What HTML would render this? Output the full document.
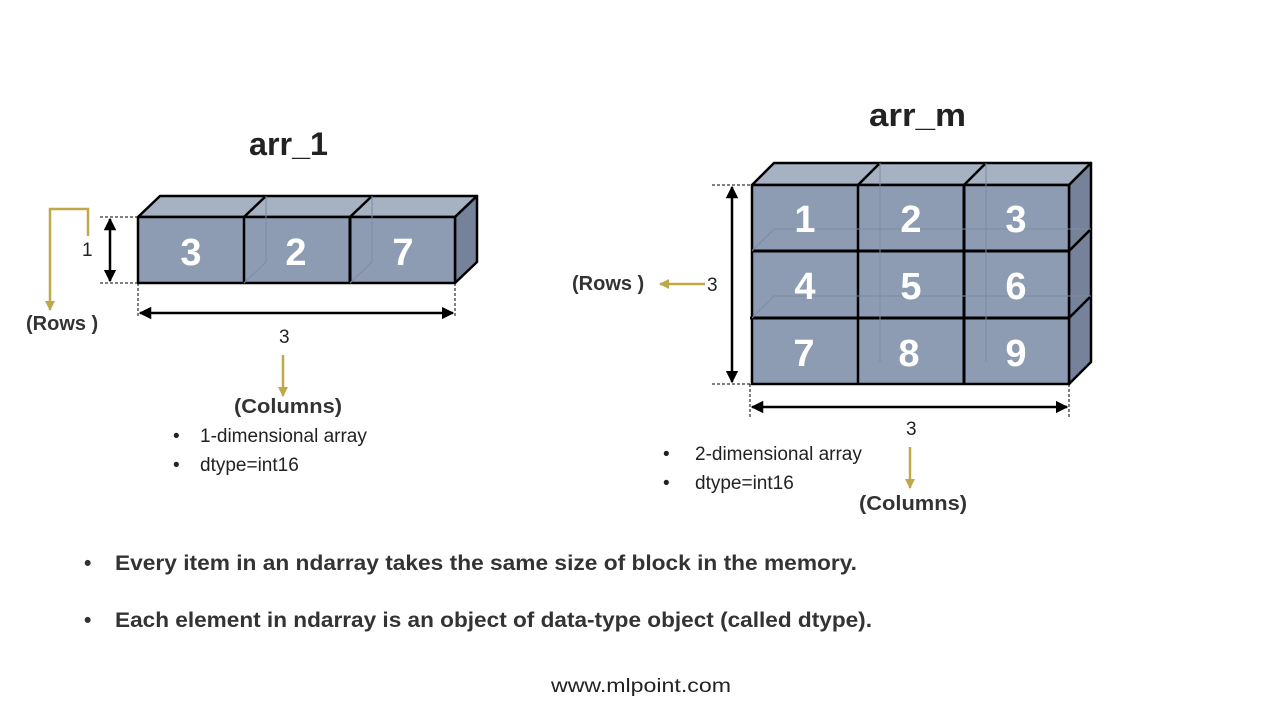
<!DOCTYPE html>
<html><head><meta charset="utf-8"><style>
html,body{margin:0;padding:0;background:#fff;}
svg{display:block;font-family:"Liberation Sans",sans-serif;}
</style></head><body>
<svg width="1280" height="720" viewBox="0 0 1280 720" xmlns="http://www.w3.org/2000/svg">
<defs>
<marker id="ab" viewBox="0 0 10 10" refX="9" refY="5" markerWidth="5" markerHeight="5" orient="auto-start-reverse"><path d="M0,0L10,5L0,10z" fill="#000"/></marker>
<marker id="ag" viewBox="0 0 10 10" refX="9" refY="5" markerWidth="4" markerHeight="4" orient="auto"><path d="M0,0L10,5L0,10z" fill="#bfa84a"/></marker>
</defs>
<g fill="#222" font-weight="bold">
<text x="249" y="155" font-size="32" textLength="79" lengthAdjust="spacingAndGlyphs">arr_1</text>
<text x="869" y="126" font-size="32" textLength="97" lengthAdjust="spacingAndGlyphs">arr_m</text>
</g>

<!-- arr_1 -->
<g stroke="#000" stroke-width="2.5" stroke-linejoin="round">
<polygon points="138,217 160,196 477,196 455,217" fill="#a6b1c2"/>
<polygon points="455,217 477,196 477,262 455,283" fill="#75829a"/>
<rect x="138" y="217" width="317" height="66" fill="#8d9cb2"/>
<line x1="244" y1="217" x2="266" y2="196"/>
<line x1="350" y1="217" x2="372" y2="196"/>
<line x1="244" y1="217" x2="244" y2="283"/>
<line x1="350" y1="217" x2="350" y2="283" stroke-width="3"/>
</g>
<g stroke="#7d8ca4" stroke-width="1" fill="none">
<polyline points="266,196 266,262 244,283"/><polyline points="372,196 372,262 350,283"/>
</g>
<g fill="#fff" font-weight="bold" font-size="38" text-anchor="middle">
<text x="191" y="265">3</text><text x="296" y="265">2</text><text x="403" y="265">7</text>
</g>
<g stroke="#000" stroke-width="1" stroke-dasharray="3,2">
<line x1="100" y1="217" x2="138" y2="217"/><line x1="100" y1="283" x2="138" y2="283"/>
<line x1="138" y1="283" x2="138" y2="318"/><line x1="455" y1="283" x2="455" y2="318"/>
</g>
<g stroke="#000" stroke-width="2.5">
<line x1="110" y1="219" x2="110" y2="281" marker-start="url(#ab)" marker-end="url(#ab)"/>
<line x1="140" y1="313" x2="453" y2="313" marker-start="url(#ab)" marker-end="url(#ab)"/>
</g>
<g stroke="#bfa84a" stroke-width="2.5" fill="none">
<polyline points="88,236 88,209 50,209 50,310" marker-end="url(#ag)"/>
<line x1="283" y1="355" x2="283" y2="396" marker-end="url(#ag)"/>
</g>
<g fill="#222" font-size="19">
<text x="82" y="256">1</text>
<text x="279" y="343">3</text>
<text x="173" y="442">•</text><text x="200" y="442">1-dimensional array</text>
<text x="173" y="471">•</text><text x="200" y="471">dtype=int16</text>
</g>
<g fill="#333" font-weight="bold" font-size="20">
<text x="26" y="330">(Rows )</text>
<text x="234" y="413" textLength="108" lengthAdjust="spacingAndGlyphs">(Columns)</text>
</g>

<!-- arr_m -->
<g stroke="#000" stroke-width="2.5" stroke-linejoin="round">
<polygon points="752,185 774,163 1091,163 1069,185" fill="#a6b1c2"/>
<polygon points="1069,185 1091,163 1091,362 1069,384" fill="#75829a"/>
<rect x="752" y="185" width="317" height="199" fill="#8d9cb2"/>
<line x1="858" y1="185" x2="880" y2="163"/>
<line x1="964" y1="185" x2="986" y2="163"/>
<line x1="1069" y1="251" x2="1091" y2="229"/>
<line x1="1069" y1="318" x2="1091" y2="296"/>
<line x1="752" y1="251" x2="1069" y2="251" stroke-width="3"/>
<line x1="750" y1="318" x2="1069" y2="318" stroke-width="3"/>
<line x1="858" y1="185" x2="858" y2="384"/>
<line x1="964" y1="185" x2="964" y2="384" stroke-width="3"/>
</g>
<g stroke="#7d8ca4" stroke-width="1" fill="none">
<polyline points="880,163 880,362"/><polyline points="986,163 986,362"/>
<polyline points="752,251 774,229 1091,229"/><polyline points="752,318 774,296 1091,296"/>
</g>
<g fill="#fff" font-weight="bold" font-size="38" text-anchor="middle">
<text x="805" y="232">1</text><text x="911" y="232">2</text><text x="1016" y="232">3</text>
<text x="805" y="299">4</text><text x="911" y="299">5</text><text x="1016" y="299">6</text>
<text x="804" y="366">7</text><text x="909" y="366">8</text><text x="1016" y="366">9</text>
</g>
<g stroke="#000" stroke-width="1" stroke-dasharray="3,2">
<line x1="712" y1="185" x2="752" y2="185"/><line x1="712" y1="384" x2="752" y2="384"/>
<line x1="750" y1="384" x2="750" y2="418"/><line x1="1069" y1="384" x2="1069" y2="418"/>
</g>
<g stroke="#000" stroke-width="2.5">
<line x1="732" y1="187" x2="732" y2="382" marker-start="url(#ab)" marker-end="url(#ab)"/>
<line x1="752" y1="407" x2="1067" y2="407" marker-start="url(#ab)" marker-end="url(#ab)"/>
</g>
<g stroke="#bfa84a" stroke-width="2.5" fill="none">
<line x1="705" y1="284" x2="660" y2="284" marker-end="url(#ag)"/>
<line x1="910" y1="447" x2="910" y2="488" marker-end="url(#ag)"/>
</g>
<g fill="#222" font-size="19">
<text x="707" y="291">3</text>
<text x="906" y="435">3</text>
<text x="663" y="460">•</text><text x="695" y="460">2-dimensional array</text>
<text x="663" y="489">•</text><text x="695" y="489">dtype=int16</text>
</g>
<g fill="#333" font-weight="bold" font-size="20">
<text x="572" y="290">(Rows )</text>
<text x="859" y="510" textLength="108" lengthAdjust="spacingAndGlyphs">(Columns)</text>
</g>

<!-- bottom -->
<g fill="#333" font-weight="bold" font-size="21">
<text x="84" y="570">•</text>
<text x="115" y="570" textLength="742" lengthAdjust="spacingAndGlyphs">Every item in an ndarray takes the same size of block in the memory.</text>
<text x="84" y="627">•</text>
<text x="115" y="627" textLength="757" lengthAdjust="spacingAndGlyphs">Each element in ndarray is an object of data-type object (called dtype).</text>
</g>
<text x="551" y="692" font-size="19" fill="#222" textLength="180" lengthAdjust="spacingAndGlyphs">www.mlpoint.com</text>
</svg>
</body></html>
